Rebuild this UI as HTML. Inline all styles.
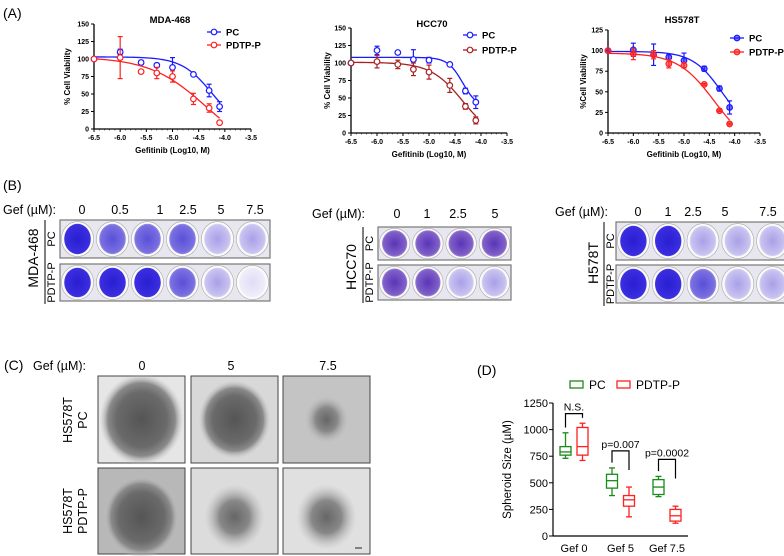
<!DOCTYPE html>
<html><head><meta charset="utf-8">
<style>
html,body{margin:0;padding:0;background:#fff;}
svg{display:block;font-family:"Liberation Sans",Arial,sans-serif;}
</style></head>
<body>
<svg id="fig" width="784" height="556" viewBox="0 0 784 556" xmlns="http://www.w3.org/2000/svg">
<defs>
  <radialGradient id="wDark" cx="50%" cy="50%" r="55%"><stop offset="0" stop-color="#2a1fd0"/><stop offset="0.85" stop-color="#3a2ee0"/><stop offset="1" stop-color="#6a60e8"/></radialGradient>
  <radialGradient id="wMid" cx="50%" cy="50%" r="55%"><stop offset="0" stop-color="#5a4fd8"/><stop offset="0.8" stop-color="#7a70e0"/><stop offset="1" stop-color="#b0a8f0"/></radialGradient>
  <radialGradient id="wPurp" cx="50%" cy="50%" r="55%"><stop offset="0" stop-color="#5a35b8"/><stop offset="0.8" stop-color="#8060c8"/><stop offset="1" stop-color="#b8a0e0"/></radialGradient>
  <radialGradient id="wLight" cx="50%" cy="50%" r="55%"><stop offset="0" stop-color="#a8a0e8"/><stop offset="0.8" stop-color="#c8c2f0"/><stop offset="1" stop-color="#e4e0f8"/></radialGradient>
  <radialGradient id="wPale" cx="50%" cy="50%" r="55%"><stop offset="0" stop-color="#e0dcf6"/><stop offset="1" stop-color="#f2f0fb"/></radialGradient>
  <radialGradient id="sph" cx="50%" cy="50%" r="50%"><stop offset="0" stop-color="#555"/><stop offset="0.6" stop-color="#6a6a6a"/><stop offset="0.8" stop-color="#8a8a8a"/><stop offset="1" stop-color="#c8c8c8" stop-opacity="0"/></radialGradient>
  <radialGradient id="sphLight" cx="50%" cy="50%" r="50%"><stop offset="0" stop-color="#666"/><stop offset="0.5" stop-color="#888"/><stop offset="1" stop-color="#bbb" stop-opacity="0"/></radialGradient>
</defs>

<!-- panel labels -->
<text x="3" y="18" font-size="14">(A)</text>
<text x="3" y="190" font-size="14">(B)</text>
<text x="4" y="370" font-size="14">(C)</text>
<text x="477" y="375" font-size="14">(D)</text>

<g id="charts"></g>
<g id="plates"></g>
<g id="spheroids"></g>
<g id="boxchart"></g>
</svg>

<script>
// ---------- Panel A data ----------
const doseX = [-6.5, -6, -5.6, -5.3, -5, -4.6, -4.3, -4.1];
const xTicks = [-6.5, -6.0, -5.5, -5.0, -4.5, -4.0, -3.5];
const mdaPC = [100, 110, 95, 91, 88, 78, 55, 32];
const mdaPCerr = [0, 4, 3, 3, 14, 2, 9, 7];
const mdaPD = [100, 102, 82, 80, 75, 43, 30, 9];
const mdaPDerr = [0, 30, 1, 8, 8, 8, 6, 1];
const mdaPCfit = [103, 0, -4.25, 1.5];
const mdaPDfit = [103, -40, -4.35, 0.8];
const hccPC = [100, 118, 115, 105, 104, 98, 60, 44];
const hccPCerr = [0, 6, 2, 14, 4, 2, 4, 9];
const hccPD = [100, 102, 98, 91, 87, 68, 38, 18];
const hccPDerr = [0, 9, 6, 9, 10, 10, 4, 5];
const hccPCfit = [108, 35, -4.35, 3];
const hccPDfit = [101, -10, -4.35, 1.4];
const hsPC = [100, 101, 95, 92, 88, 78, 54, 31];
const hsPCerr = [0, 8, 13, 3, 9, 3, 3, 8];
const hsPD = [100, 96, 95, 84, 82, 59, 27, 11];
const hsPDerr = [0, 7, 5, 5, 3, 1, 1, 1];
const hsPCfit = [99, 0, -4.25, 1.5];
const hsPDfit = [97, -20, -4.4, 1.2];
const yTicks150 = [0, 25, 50, 75, 100, 125, 150];
const yTicks125 = [0, 25, 50, 75, 100, 125];

// ---------- Panel D data ----------
const boxCats = ['Gef 0', 'Gef 5', 'Gef 7.5'];
const pcBox = [[730, 760, 790, 840, 970], [380, 450, 520, 580, 640], [370, 390, 460, 530, 560]];
const pdBox = [[710, 760, 840, 1020, 1060], [180, 280, 340, 380, 460], [120, 140, 190, 250, 280]];
const boxYTicks = [0, 250, 500, 750, 1000, 1250];
const sigLabels = ['N.S.', 'p=0.007', 'p=0.0002'];
const sigHeights = [1150, 800, 720];

const NS = 'http://www.w3.org/2000/svg';
function mk(tag, attrs, parent, txt) {
  const e = document.createElementNS(NS, tag);
  for (const k in attrs) e.setAttribute(k, attrs[k]);
  if (txt !== undefined) e.textContent = txt;
  parent.appendChild(e);
  return e;
}

function fitY(p, x) { return p[1] + (p[0] - p[1]) / (1 + Math.pow(10, (x - p[2]) * p[3])); }

function curveChart(g, geo, series) {
  const sx = v => geo.x0 + (v + 6.5) / 3 * (geo.x1 - geo.x0);
  const sy = v => geo.y0 - v / geo.ymax * (geo.y0 - geo.ytop);
  const ax = mk('g', {}, g);
  
  
  mk('line', {x1: geo.x0, y1: geo.y0, x2: geo.x1, y2: geo.y0, stroke: '#000', 'stroke-width': 1.3}, ax);
  mk('line', {x1: geo.x0, y1: geo.y0, x2: geo.x0, y2: geo.ytop, stroke: '#000', 'stroke-width': 1.3}, ax);
  xTicks.forEach(t => {
    mk('line', {x1: sx(t), y1: geo.y0, x2: sx(t), y2: geo.y0 + 3, stroke: '#000'}, ax);
    const tl = mk('text', {x: sx(t), y: geo.y0 + 11, 'font-size': 7, 'font-weight': 'bold', 'text-anchor': 'middle'}, ax, t.toFixed(1));
    
    
  });
  for (let t = -6.5; t <= -3.55; t += 0.1) mk('line', {x1: sx(t), y1: geo.y0, x2: sx(t), y2: geo.y0 + 1.5, stroke: '#000', 'stroke-width': 0.5}, ax);
  geo.yt.forEach(t => {
    mk('line', {x1: geo.x0 - 3, y1: sy(t), x2: geo.x0, y2: sy(t), stroke: '#000'}, ax);
    const tl = mk('text', {x: geo.x0 - 5, y: sy(t) + 2.5, 'font-size': 7, 'font-weight': 'bold', 'text-anchor': 'end'}, ax, t);
    
    
  });
  const tt = mk('text', {x: geo.tx, y: geo.ty, 'font-size': 9.5, 'font-weight': 'bold', 'text-anchor': 'middle'}, g, geo.title);
  
  
  const xl = mk('text', {x: (geo.x0 + geo.x1) / 2, y: geo.y0 + 24, 'font-size': 8, 'font-weight': 'bold', 'text-anchor': 'middle'}, g, 'Gefitinib (Log10, M)');
  
  
  const yl = mk('text', {x: 0, y: 0, 'font-size': 8, 'font-weight': 'bold', 'text-anchor': 'middle', transform: 'translate(' + geo.ylx + ',' + ((geo.y0 + geo.ytop) / 2) + ') rotate(-90)'}, g, geo.ylab);
  
  

  series.forEach((s, si) => {
    const sg = mk('g', {}, g);
    
    
    let d = '';
    for (let i = 0; i <= 60; i++) {
      const x = -6.5 + i / 60 * 2.4;
      d += (i ? 'L' : 'M') + sx(x).toFixed(2) + ',' + sy(fitY(s.fit, x)).toFixed(2);
    }
    const fl = mk('path', {d: d, fill: 'none', stroke: s.color, 'stroke-width': 1.3}, sg);
    
    
    doseX.forEach((x, i) => {
      const v = s.y[i], e = s.e[i];
      if (e > 0) {
        mk('line', {x1: sx(x), y1: sy(v - e), x2: sx(x), y2: sy(v + e), stroke: s.color, 'stroke-width': 1.2}, sg);
        mk('line', {x1: sx(x) - 2.5, y1: sy(v - e), x2: sx(x) + 2.5, y2: sy(v - e), stroke: s.color, 'stroke-width': 1.2}, sg);
        mk('line', {x1: sx(x) - 2.5, y1: sy(v + e), x2: sx(x) + 2.5, y2: sy(v + e), stroke: s.color, 'stroke-width': 1.2}, sg);
      }
      const c = mk('circle', {cx: sx(x), cy: sy(v), r: 2.8, fill: s.filled ? s.color : '#fff', 'fill-opacity': s.filled ? 0.6 : 1, stroke: s.color, 'stroke-width': 1.2}, sg);
      
      
    });
    const lg = mk('g', {}, g);
    
    
    const ly = geo.ly + si * geo.lstep;
    mk('line', {x1: geo.lx, y1: ly, x2: geo.lx + 14, y2: ly, stroke: s.color, 'stroke-width': 1.3}, lg);
    mk('circle', {cx: geo.lx + 7, cy: ly, r: 2.8, fill: s.filled ? s.color : '#fff', 'fill-opacity': s.filled ? 0.6 : 1, stroke: s.color, 'stroke-width': 1.2}, lg);
    mk('text', {x: geo.lx + 19, y: ly + 3.5, 'font-size': 9.5, 'font-weight': 'bold'}, lg, s.label);
  });
}

const charts = document.getElementById('charts');
const c1 = mk('g', {}, charts);  
curveChart(c1, {name: 'mda468', x0: 94, x1: 251, y0: 129, ytop: 24, ymax: 150, yt: yTicks150, title: 'MDA-468', tx: 170, ty: 23, ylx: 70, ylab: '% Cell Viability', lx: 207, ly: 32, lstep: 13},
  [{label: 'PC', y: mdaPC, e: mdaPCerr, fit: mdaPCfit, color: '#1a1aff'}, {label: 'PDTP-P', y: mdaPD, e: mdaPDerr, fit: mdaPDfit, color: '#ff2020'}]);
const c2 = mk('g', {}, charts);  
curveChart(c2, {name: 'hcc70', x0: 351, x1: 507, y0: 133, ytop: 28, ymax: 150, yt: yTicks150, title: 'HCC70', tx: 432, ty: 27, ylx: 330, ylab: '% Cell Viability', lx: 463, ly: 35, lstep: 15},
  [{label: 'PC', y: hccPC, e: hccPCerr, fit: hccPCfit, color: '#1a1aff'}, {label: 'PDTP-P', y: hccPD, e: hccPDerr, fit: hccPDfit, color: '#a82020'}]);
const c3 = mk('g', {}, charts);  
curveChart(c3, {name: 'hs578t', x0: 608, x1: 760, y0: 133, ytop: 30, ymax: 125, yt: yTicks125, title: 'HS578T', tx: 682, ty: 23, ylx: 586, ylab: '%Cell Viability', lx: 730, ly: 38, lstep: 14},
  [{label: 'PC', y: hsPC, e: hsPCerr, fit: hsPCfit, color: '#1a1aff', filled: true}, {label: 'PDTP-P', y: hsPD, e: hsPDerr, fit: hsPDfit, color: '#ff2020', filled: true}]);

// ---------- Panel B plates ----------
const plates = document.getElementById('plates');
function plateGroup(cfg) {
  const g = mk('g', {}, plates);
  
  
  const h = mk('text', {x: cfg.gx, y: cfg.hy, 'font-size': 12.5}, g, 'Gef (\u00b5M):');
  
  
  cfg.doses.forEach((d, i) => mk('text', {x: cfg.dx[i], y: cfg.hy, 'font-size': 12.5, 'text-anchor': 'middle'}, g, d));
  mk('text', {x: 0, y: 0, 'font-size': 14, 'text-anchor': 'middle', transform: 'translate(' + cfg.cx + ',' + cfg.cy + ') rotate(-90)'}, g, cfg.cell);
  mk('line', {x1: cfg.lineX, y1: cfg.rows[0][0], x2: cfg.lineX, y2: cfg.rows[1][1] + 3, stroke: '#000', 'stroke-width': 1}, g);
  ['PC', 'PDTP-P'].forEach((lab, r) => {
    const [y1, y2] = cfg.rows[r];
    mk('text', {x: 0, y: 0, 'font-size': 11, 'text-anchor': 'middle', transform: 'translate(' + (cfg.lineX + 10) + ',' + ((y1 + y2) / 2) + ') rotate(-90)'}, g, lab);
    const plate = mk('rect', {x: cfg.px0, y: y1, width: cfg.px1 - cfg.px0, height: y2 - y1, fill: '#e8e6ee', stroke: '#777', 'stroke-width': 1.2}, g);
    
    
    const n = cfg.fills[r].length, step = (cfg.px1 - cfg.px0) / n;
    cfg.fills[r].forEach((f, i) => {
      const cx = cfg.px0 + step * (i + 0.5), cy = (y1 + y2) / 2;
      mk('ellipse', {cx: cx, cy: cy, rx: step * 0.46, ry: (y2 - y1) * 0.46, fill: '#fafafa', stroke: '#aaa', 'stroke-width': 0.6}, g);
      mk('ellipse', {cx: cx, cy: cy, rx: step * 0.38, ry: (y2 - y1) * 0.4, fill: 'url(#' + f + ')'}, g);
    });
  });
}
plateGroup({name: 'mda468', gx: 3, hy: 214, doses: ['0', '0.5', '1', '2.5', '5', '7.5'], dx: [82, 120, 160, 188, 221, 255], cell: 'MDA-468', cx: 38, cy: 258, lineX: 45,
  rows: [[220, 258], [264, 301]], px0: 60, px1: 270, fills: [['wDark', 'wMid', 'wMid', 'wMid', 'wLight', 'wLight'], ['wDark', 'wDark', 'wDark', 'wMid', 'wLight', 'wPale']]});
plateGroup({name: 'hcc70', gx: 312, hy: 218, doses: ['0', '1', '2.5', '5'], dx: [397, 427, 458, 495], cell: 'HCC70', cx: 356, cy: 267, lineX: 363,
  rows: [[227, 260], [265, 300]], px0: 378, px1: 511, fills: [['wPurp', 'wPurp', 'wPurp', 'wPurp'], ['wPurp', 'wPurp', 'wLight', 'wLight']]});
plateGroup({name: 'hs578t', gx: 555, hy: 216, doses: ['0', '1', '2.5', '5', '7.5'], dx: [638, 668, 693, 725, 768], cell: 'H578T', cx: 598, cy: 263, lineX: 604,
  rows: [[222, 260], [265, 303]], px0: 616, px1: 790, fills: [['wDark', 'wDark', 'wLight', 'wLight', 'wLight'], ['wDark', 'wDark', 'wMid', 'wLight', 'wLight']]});

// ---------- Panel C spheroid images ----------
const sph = document.getElementById('spheroids');
const hdr = mk('text', {x: 33, y: 370, 'font-size': 12.5}, sph, 'Gef (\u00b5M):');


[['0', 142], ['5', 231], ['7.5', 328]].forEach(([t, x]) => mk('text', {x: x, y: 370, 'font-size': 12.5, 'text-anchor': 'middle'}, sph, t));
[[420, 'PC'], [511, 'PDTP-P']].forEach(([cy, lab]) => {
  mk('text', {x: 0, y: 0, 'font-size': 12.5, 'text-anchor': 'middle', transform: 'translate(72,' + cy + ') rotate(-90)'}, sph, 'HS578T');
  mk('text', {x: 0, y: 0, 'font-size': 12.5, 'text-anchor': 'middle', transform: 'translate(87,' + cy + ') rotate(-90)'}, sph, lab);
});
const imgX = [98, 191, 283], imgY = [[376, 463], [468, 554]];
const imgBg = [['#e6e6e6', '#d8d8d8', '#c4c4c4'], ['#b8b8b8', '#dcdcdc', '#e0e0e0']];
const sphR = [[0.42, 0.36, 0.22], [0.38, 0.3, 0.3]];
imgY.forEach(([y1, y2], r) => imgX.forEach((x, c) => {
  const w = 87, h = y2 - y1;
  const im = mk('rect', {x: x, y: y1, width: w, height: h, fill: imgBg[r][c], stroke: '#444', 'stroke-width': 1}, sph);
  
  
  const rr = sphR[r][c] * w;
  mk('ellipse', {cx: x + w / 2, cy: y1 + h / 2 + (r ? 6 : 0), rx: rr * 1.15, ry: rr * 1.25, fill: 'url(#' + (c === 0 || (r === 0 && c === 1) ? 'sph' : 'sphLight') + ')'}, sph);
}));
mk('line', {x1: 355, y1: 548, x2: 362, y2: 548, stroke: '#222', 'stroke-width': 1}, sph);

// ---------- Panel D box chart ----------
const bc = document.getElementById('boxchart');
const bx0 = 553, bx1 = 688, by0 = 536, byTop = 403, byMax = 1250;
const bsy = v => by0 - v / byMax * (by0 - byTop);
const catX = i => bx0 + 21 + i * 46.5;
const bax = mk('g', {}, bc);


mk('line', {x1: bx0, y1: by0, x2: bx1, y2: by0, stroke: '#000', 'stroke-width': 1.2}, bax);
mk('line', {x1: bx0, y1: by0, x2: bx0, y2: byTop, stroke: '#000', 'stroke-width': 1.2}, bax);
boxYTicks.forEach(t => {
  mk('line', {x1: bx0 - 4, y1: bsy(t), x2: bx0, y2: bsy(t), stroke: '#000'}, bax);
  const tl = mk('text', {x: bx0 - 5, y: bsy(t) + 4, 'font-size': 11, 'text-anchor': 'end'}, bax, t);
  
  
});
boxCats.forEach((c, i) => {
  const tl = mk('text', {x: catX(i), y: by0 + 16, 'font-size': 11, 'text-anchor': 'middle'}, bax, c);
  
  
});
const byl = mk('text', {x: 0, y: 0, 'font-size': 11.5, 'text-anchor': 'middle', transform: 'translate(511,' + ((by0 + byTop) / 2) + ') rotate(-90)'}, bc, 'Spheroid Size (\u00b5M)');


function drawBox(vals, cx, color) {
  const g = mk('g', {}, bc);
  
  
  const w = 11;
  mk('line', {x1: cx, y1: bsy(vals[0]), x2: cx, y2: bsy(vals[1]), stroke: color, 'stroke-width': 1.3}, g);
  mk('line', {x1: cx, y1: bsy(vals[3]), x2: cx, y2: bsy(vals[4]), stroke: color, 'stroke-width': 1.3}, g);
  mk('line', {x1: cx - 3, y1: bsy(vals[0]), x2: cx + 3, y2: bsy(vals[0]), stroke: color, 'stroke-width': 1.3}, g);
  mk('line', {x1: cx - 3, y1: bsy(vals[4]), x2: cx + 3, y2: bsy(vals[4]), stroke: color, 'stroke-width': 1.3}, g);
  mk('rect', {x: cx - w / 2, y: bsy(vals[3]), width: w, height: bsy(vals[1]) - bsy(vals[3]), fill: 'none', stroke: color, 'stroke-width': 1.3}, g);
  mk('line', {x1: cx - w / 2, y1: bsy(vals[2]), x2: cx + w / 2, y2: bsy(vals[2]), stroke: color, 'stroke-width': 1.3}, g);
}
boxCats.forEach((c, i) => {
  drawBox(pcBox[i], catX(i) - 8.5, '#1a8a1a');
  drawBox(pdBox[i], catX(i) + 8.5, '#ff2020');
  const top = bsy(sigHeights[i]);
  const br = mk('path', {d: 'M' + (catX(i) - 8.5) + ',' + bsy(pcBox[i][4] + 50) + 'V' + top + 'H' + (catX(i) + 8.5) + 'V' + bsy(Math.max(pdBox[i][4] + 50, pcBox[i][4] - 20)), fill: 'none', stroke: '#000', 'stroke-width': 1.2}, bc);
  
  
  const sl = mk('text', {x: catX(i), y: top - 3, 'font-size': 10.5, 'text-anchor': 'middle'}, bc, sigLabels[i]);
  
  
});
[['PC', 570, '#1a8a1a'], ['PDTP-P', 617, '#ff2020']].forEach(([lab, x, col]) => {
  const lg = mk('g', {}, bc);
  
  
  mk('rect', {x: x, y: 381, width: 13, height: 7, fill: 'none', stroke: col, 'stroke-width': 1.3}, lg);
  mk('text', {x: x + 19, y: 389, 'font-size': 12}, lg, lab);
});
</script>
</body></html>
